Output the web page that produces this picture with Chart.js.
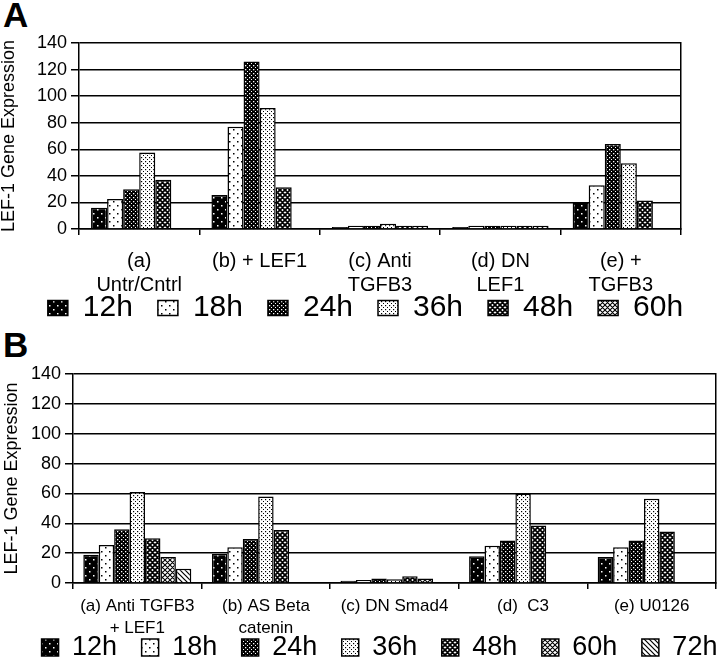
<!DOCTYPE html>
<html>
<head>
<meta charset="utf-8">
<script src="https://cdn.jsdelivr.net/npm/chart.js@4/dist/chart.umd.min.js"></script>
<style>
  html, body { margin: 0; padding: 0; background: #fff; }
  body { width: 720px; height: 660px; overflow: hidden; position: relative; font-family: 'Liberation Sans', Arial, sans-serif; }
  canvas { position: absolute; left: 0; }
  .panel { position: absolute; left: 3px; font-weight: bold; font-size: 35px; line-height: 35px; color: #000; }
</style>
</head>
<body>
<div class="panel" style="top:-3px">A</div>
<div class="panel" style="top:327px">B</div>
<canvas id="chart-a" width="731" height="333" style="top:0;width:731px;height:333px"></canvas>
<canvas id="chart-b" width="756" height="341" style="top:330px;width:756px;height:341px"></canvas>
<script>
// panel A
const labelsA = [['(a)', 'Untr/Cntrl'], ['(b) + LEF1'], ['(c) Anti', 'TGFB3'], ['(d) DN', 'LEF1'], ['(e) +', 'TGFB3']]
const a12 = [16, 25.5, 1.5, 1.5, 20]
const a18 = [22.5, 77, 2.5, 2.5, 33]
const a24 = [30, 126, 2.5, 2.5, 64]
const a36 = [57.5, 91, 4, 2.5, 49.5]
const a48 = [37, 31.5, 2.5, 2.5, 21.5]
const a60 = [null, null, 2.5, 2.5, null]

// panel B
const labelsB = [['(a) Anti TGFB3', '+ LEF1'], ['(b) AS Beta', 'catenin'], ['(c) DN Smad4'], ['(d)  C3'], ['(e) U0126']]
const b12 = [19, 19.5, 1.5, 18, 17.5]
const b18 = [25.5, 24, 2, 25, 24]
const b24 = [36, 29.5, 3, 28.5, 28.5]
const b36 = [61, 58, 2.5, 60, 56.5]
const b48 = [30, 35.5, 4.5, 38.5, 34.5]
const b60 = [17.5, null, 3, null, null]
const b72 = [9.5, null, null, null, null]

const yTicks = { min: 0, max: 140, step: 20 }
const FONT = "'Liberation Sans', Arial, sans-serif"

function tile(size, draw) {
    const c = document.createElement('canvas')
    c.width = size
    c.height = size
    const g = c.getContext('2d')
    draw(g, size)
    return g.createPattern(c, 'repeat')
}

function dotted(bg, fg, size, dot) {
    return tile(size, (g, s) => {
        g.fillStyle = bg
        g.fillRect(0, 0, s, s)
        g.fillStyle = fg
        g.fillRect(1, 1, dot, dot)
        g.fillRect(1 + s / 2, 1 + s / 2, dot, dot)
    })
}

function hatch(bg, fg, size, width, both) {
    return tile(size, (g, s) => {
        g.fillStyle = bg
        g.fillRect(0, 0, s, s)
        g.strokeStyle = fg
        g.lineWidth = width
        g.beginPath()
        g.moveTo(-1, -1); g.lineTo(s + 1, s + 1)
        g.moveTo(s - 1, -1); g.lineTo(s + 1, 1)
        g.moveTo(-1, s - 1); g.lineTo(1, s + 1)
        if (both) {
            g.moveTo(-1, s + 1); g.lineTo(s + 1, -1)
            g.moveTo(-1, 1); g.lineTo(1, -1)
            g.moveTo(s - 1, s + 1); g.lineTo(s + 1, s - 1)
        }
        g.stroke()
    })
}

const fill12 = dotted('#000', '#fff', 8, 1.5)
const fill18 = dotted('#fff', '#000', 8, 1.5)
const fill24 = dotted('#000', '#fff', 4, 1.3)
const fill36 = dotted('#fff', '#000', 4, 1.2)
const fill48 = hatch('#fff', '#000', 5, 1.8, true)
const fill60 = hatch('#fff', '#000', 5, 1.1, true)
const fill72 = hatch('#fff', '#000', 5, 1.2, false)

function bars(label, data, fill) {
    return {
        label: label,
        data: data,
        backgroundColor: fill,
        borderColor: '#000',
        borderWidth: 1.5,
        borderSkipped: 'start'
    }
}

function options(o) {
    return {
        responsive: false,
        animation: false,
        layout: { padding: { left: o.padLeft, right: 0, top: o.padTop, bottom: 0 } },
        datasets: { bar: { categoryPercentage: o.catPct, barPercentage: 1 } },
        plugins: {
            tooltip: { enabled: false },
            legend: {
                position: 'bottom',
                align: 'center',
                labels: {
                    color: '#000',
                    font: { family: FONT, size: o.legendFont },
                    boxWidth: o.boxW,
                    boxHeight: o.boxH,
                    padding: o.legendPad
                }
            }
        },
        scales: {
            x: {
                grid: { offset: true, drawOnChartArea: false, color: '#000', lineWidth: 1.5, tickLength: 6 },
                border: { color: '#000', width: 1.5 },
                ticks: {
                    color: '#000',
                    font: { family: FONT, size: o.xFont, lineHeight: o.xLine },
                    padding: o.xPad,
                    autoSkip: false,
                    maxRotation: 0
                },
                afterFit: (s) => {
                    s.height = o.xHeight
                    // the two-line labels run under the legend, as in the figure
                    s._computeLabelArea = () => undefined
                }
            },
            y: {
                min: yTicks.min,
                max: yTicks.max,
                grid: { color: '#000', lineWidth: 1.5, tickLength: 8 },
                border: { color: '#000', width: 1.5 },
                ticks: {
                    stepSize: yTicks.step,
                    color: '#000',
                    font: { family: FONT, size: 18 },
                    padding: 4
                },
                title: {
                    display: true,
                    text: 'LEF-1 Gene Expression',
                    color: '#000',
                    font: { family: FONT, size: 18, lineHeight: 1 },
                    padding: 0
                },
                afterFit: (s) => { s.width = o.yWidth }
            },
            y2: {
                position: 'right',
                display: true,
                grid: { display: false },
                ticks: { display: false },
                border: { color: '#000', width: 1.5 },
                afterFit: (s) => { s.width = o.rightWidth }
            }
        }
    }
}

const chart_a = new Chart(document.getElementById('chart-a'), {
    type: 'bar',
    data: {
        labels: labelsA,
        datasets: [
            bars('12h', a12, fill12),
            bars('18h', a18, fill18),
            bars('24h', a24, fill24),
            bars('36h', a36, fill36),
            bars('48h', a48, fill48),
            bars('60h', a60, fill60)
        ]
    },
    options: options({
        padLeft: 0, padTop: 43, catPct: 0.8,
        legendFont: 30, boxW: 20, boxH: 15, legendPad: 25,
        xFont: 20, xLine: 1.2, xPad: 14, xHeight: 39,
        yWidth: 79, rightWidth: 50
    })
})

const chart_b = new Chart(document.getElementById('chart-b'), {
    type: 'bar',
    data: {
        labels: labelsB,
        datasets: [
            bars('12h', b12, fill12),
            bars('18h', b18, fill18),
            bars('24h', b24, fill24),
            bars('36h', b36, fill36),
            bars('48h', b48, fill48),
            bars('60h', b60, fill60),
            bars('72h', b72, fill72)
        ]
    },
    options: options({
        padLeft: 3, padTop: 44, catPct: 0.84,
        legendFont: 27, boxW: 17, boxH: 17, legendPad: 24.5,
        xFont: 17, xLine: 1.3, xPad: 6, xHeight: 26.5,
        yWidth: 70, rightWidth: 40
    })
})
</script>
</body>
</html>
